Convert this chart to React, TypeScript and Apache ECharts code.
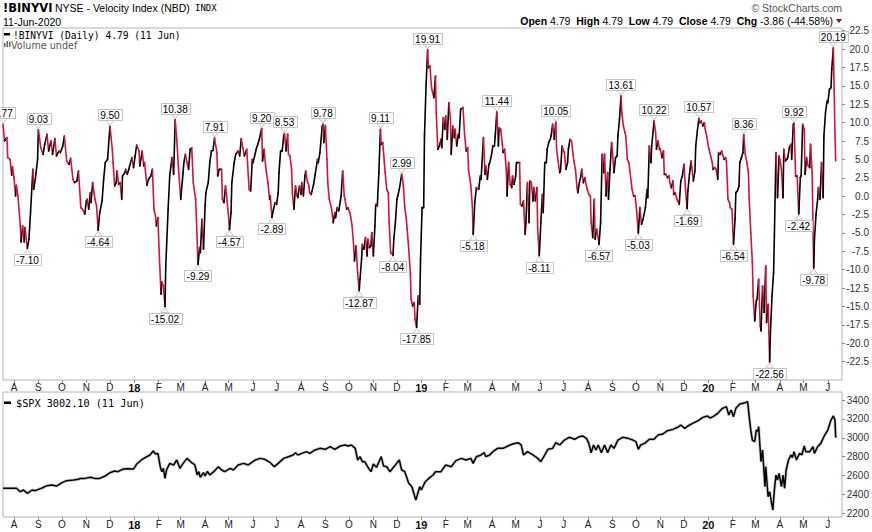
import React, { useEffect, useRef } from 'react';
import * as echarts from 'echarts';

// Day offsets are counted from 18-Jul-2017 (left edge of the chart)
const START = Date.UTC(2017, 6, 18);
const DAY_MS = 86400000;
const AXIS_MAX_DAY = 1067;

// !BINYVI velocity index: [day offset, value]
const VELOCITY: [number, number][] = [
  [0, 9.77], [2, 7.5], [4, 7.82], [5, 7.96], [6, 5.24], [9, 5.01], [11, 2.84], [12, 4.01], [14, 2.52], [16, 0.03],
  [17, 1.48], [19, 0.03], [22, -4.05], [23, -6.23], [25, -4.05], [27, -6.23], [28, -4.28], [31, -7.1], [33, -5.86], [35, -2.24],
  [38, 3.65], [39, 0.93], [41, 2.29], [44, 5.01], [45, 9.03], [48, 6.59], [51, 5.69], [53, 7.05], [56, 8.41], [58, 6.14],
  [61, 7.5], [63, 5.69], [66, 7.82], [68, 5.46], [71, 6.14], [73, 5.92], [76, 6.82], [78, 8.18], [81, 4.78], [84, 4.33],
  [86, 5.14], [89, 2.29], [91, 1.84], [94, 2.07], [96, 3.43], [99, -1.56], [101, -1.78], [104, -2.46], [106, -0.65], [107, -0.43],
  [109, -1.78], [111, 0.48], [112, -0.88], [114, 1.84], [117, -0.43], [119, -1.33], [121, -4.64], [123, -2.24], [126, -0.65], [128, 2.29],
  [130, 4.56], [133, 5.01], [136, 9.5], [139, 6.37], [140, 4.56], [142, 1.39], [144, 1.84], [145, 3.43], [147, 1.61], [149, 1.84],
  [151, -0.43], [152, 2.75], [155, 3.2], [156, 3.65], [158, 2.97], [160, 3.65], [161, 4.1], [164, 5.24], [166, 3.88], [168, 5.46],
  [170, 6.96], [173, 6.14], [174, 4.1], [177, 6.14], [179, 4.1], [180, 4.56], [183, 1.48], [185, 2.29], [188, 2.75], [190, 3.65],
  [192, -1.78], [194, -2.69], [195, -4.05], [197, -2.92], [199, -8.58], [201, -13.34], [202, -11.66], [204, -12.21], [206, -15.02], [207, -9.49],
  [210, -1.78], [212, 2.75], [215, 5.24], [217, 2.97], [219, 10.38], [221, 7.73], [223, 4.1], [226, -0.43], [229, 3.2], [230, 4.56],
  [232, 5.69], [234, 4.56], [236, 3.65], [238, 6.37], [240, 6.59], [242, 1.84], [245, -0.43], [246, -3.15], [248, -9.29], [250, -7.0],
  [251, -7.68], [253, -3.15], [255, -7.22], [257, -1.33], [258, 0.48], [261, 1.84], [263, 4.56], [265, 6.14], [267, 6.2], [269, 7.91],
  [272, 5.92], [273, 2.75], [275, 3.65], [278, 3.65], [279, -0.43], [281, -0.88], [283, 1.39], [285, -0.65], [287, -2.92], [288, -4.57],
  [290, -2.24], [291, 1.84], [294, 4.56], [296, 5.69], [299, 6.14], [301, 5.46], [303, 7.82], [305, 6.59], [307, 5.46], [310, 6.37],
  [312, 2.75], [313, 0.93], [315, 0.71], [317, 5.01], [318, 4.56], [320, 5.46], [322, 6.37], [324, 7.05], [326, 7.73], [329, 9.2],
  [330, 4.78], [332, 6.37], [334, 4.1], [335, 3.2], [337, 1.84], [339, -0.43], [340, 0.03], [342, -2.89], [344, -1.78], [346, -0.88],
  [348, -1.11], [350, 0.48], [351, 3.2], [353, 6.14], [355, 6.14], [357, 8.18], [358, 8.53], [360, 6.14], [362, 8.41], [363, 5.69],
  [365, 5.46], [367, 3.65], [368, 0.48], [370, -1.78], [372, 1.39], [374, 0.03], [375, -0.2], [377, 1.39], [379, 0.25], [380, 1.84],
  [382, 0.03], [384, 2.75], [385, 3.43], [387, 2.07], [389, 1.39], [390, 0.48], [392, 0.25], [395, 1.61], [397, 2.97], [400, 5.01],
  [401, 4.56], [403, 5.92], [406, 9.5], [407, 9.78], [408, 7.28], [410, 9.6], [412, 5.01], [413, 1.84], [415, -0.43], [418, -1.78],
  [420, -3.6], [422, -2.24], [423, -2.92], [425, -1.56], [427, -2.01], [429, -0.65], [430, 0.03], [432, 3.43], [434, 0.03], [435, -0.43],
  [437, -1.78], [439, -1.56], [441, -2.24], [442, -2.69], [444, -4.05], [446, -6.77], [447, -8.81], [449, -6.77], [451, -10.39], [453, -12.87],
  [454, -11.3], [456, -8.58], [457, -6.54], [459, -7.22], [461, -5.64], [463, -8.13], [464, -5.86], [466, -6.99], [468, -6.77], [469, -4.96],
  [471, -8.13], [473, -4.05], [474, -1.11], [476, -1.33], [478, 3.2], [480, 9.11], [481, 7.05], [483, 7.28], [485, 4.56], [486, 3.2],
  [488, 0.93], [490, 0.48], [491, -3.37], [493, -7.68], [496, -8.04], [497, -5.86], [499, -3.6], [501, -0.43], [502, 0.03], [504, 0.93],
  [506, 2.29], [507, 2.99], [509, 1.61], [511, -1.56], [513, -3.15], [514, -4.51], [516, -7.22], [518, -10.39], [519, -14.02], [521, -14.93],
  [523, -14.47], [524, -16.74], [526, -17.85], [528, -13.57], [530, -14.7], [531, -8.58], [533, -1.56], [535, -1.56], [536, 8.18], [538, 14.98],
  [540, 19.91], [541, 17.47], [543, 17.7], [545, 14.75], [546, 14.3], [548, 13.39], [550, 16.34], [551, 11.35], [553, 6.37], [555, 6.82],
  [557, 7.73], [558, 6.59], [560, 10.67], [562, 9.09], [563, 10.9], [565, 7.73], [567, 12.71], [569, 10.45], [570, 5.69], [572, 9.54],
  [574, 7.96], [575, 9.09], [577, 6.82], [579, 8.41], [580, 7.96], [582, 11.81], [585, 12.03], [587, 8.41], [589, 6.14], [591, 6.59],
  [592, 3.65], [595, 1.39], [597, -1.56], [598, -5.18], [600, -0.88], [602, 1.16], [605, 0.93], [607, 2.75], [608, 2.29], [611, 7.96],
  [613, 2.97], [614, 4.1], [616, 2.29], [618, 4.33], [619, 4.56], [621, 5.46], [623, 6.82], [625, 6.82], [626, 8.18], [628, 11.44],
  [630, 6.82], [631, 9.31], [633, 9.09], [635, 7.05], [636, 5.92], [638, 6.37], [640, 3.65], [641, 0.03], [643, 4.56], [645, 1.61],
  [647, 1.16], [648, 2.75], [650, 1.61], [652, 2.75], [653, 4.56], [657, 4.56], [658, -1.11], [660, -1.33], [662, -0.65], [664, -5.18],
  [665, -3.6], [667, 1.84], [669, -3.6], [670, 2.07], [672, 1.84], [674, -0.65], [675, 1.16], [677, -0.65], [679, 1.16], [680, -4.51],
  [682, -8.11], [684, -3.6], [686, 0.25], [687, -2.24], [689, 4.56], [691, 4.56], [692, 6.37], [694, 7.28], [696, 7.73], [697, 8.18],
  [699, 9.77], [701, 7.73], [703, 10.05], [704, 6.37], [706, 4.78], [708, 3.2], [709, 3.43], [711, 6.82], [713, 6.14], [714, 5.92],
  [716, 3.65], [718, 4.56], [719, 6.37], [721, 7.73], [723, 7.5], [725, 5.69], [726, 4.78], [728, 3.65], [730, 1.16], [731, 0.48],
  [733, 1.84], [735, 2.75], [736, 3.65], [738, 1.84], [740, 2.52], [741, 1.84], [743, 0.93], [745, 0.25], [747, 0.03], [748, -3.6],
  [750, -5.64], [752, -0.43], [753, -5.86], [755, -4.51], [757, -5.64], [758, -6.57], [760, -3.6], [762, 5.69], [764, 3.2], [765, 5.69],
  [767, 0.03], [769, 3.2], [770, -0.43], [772, 3.65], [774, 7.28], [775, 6.14], [777, 3.2], [779, 5.24], [781, 5.46], [782, 8.18],
  [784, 10.45], [786, 13.61], [787, 11.35], [789, 9.54], [791, 8.64], [792, 8.18], [794, 5.01], [796, 4.56], [797, 3.65], [800, 0.93],
  [802, 0.03], [804, 0.03], [806, -2.24], [808, -5.03], [810, -1.56], [812, -3.82], [814, -3.15], [817, -1.56], [819, 0.93], [820, -0.2],
  [822, 6.82], [824, 4.56], [825, 6.82], [828, 10.22], [830, 8.64], [831, 6.37], [833, 7.5], [835, 6.37], [836, 6.37], [838, 5.24],
  [840, 6.14], [841, 2.97], [843, 2.97], [845, 2.52], [847, 2.75], [848, 1.84], [850, 1.16], [852, 2.07], [853, 0.25], [855, 0.48],
  [857, -0.43], [858, -0.65], [860, -1.11], [862, 2.07], [864, 2.75], [866, 4.33], [868, 0.93], [870, -1.69], [871, 0.71], [873, 2.97],
  [875, 4.78], [876, 3.88], [878, 2.07], [880, 3.43], [881, 6.82], [883, 8.86], [885, 10.57], [886, 9.99], [888, 10.22], [890, 9.54],
  [892, 9.99], [893, 9.09], [895, 8.18], [897, 6.82], [898, 6.37], [900, 5.46], [902, 4.56], [903, 3.65], [905, 3.88], [907, 3.65],
  [909, 2.29], [910, 5.92], [912, 5.69], [914, 6.14], [915, 5.69], [917, 5.01], [919, 5.24], [920, 4.78], [922, -0.43], [924, -0.88],
  [925, -1.56], [927, -1.78], [929, -6.54], [931, -3.15], [932, 0.48], [934, 0.71], [936, 1.39], [937, 4.56], [939, 5.24], [941, 5.92],
  [942, 8.36], [944, 5.69], [946, 4.56], [948, 3.2], [949, -0.43], [951, -4.96], [953, -9.04], [954, -13.57], [956, -16.97], [958, -14.25],
  [959, -14.02], [961, -11.3], [963, -17.65], [964, -18.32], [966, -12.21], [968, -15.83], [970, -9.49], [971, -17.19], [973, -14.7], [975, -22.56],
  [976, -18.55], [978, -13.57], [980, -10.39], [981, -5.41], [983, 5.92], [985, -0.2], [987, 5.46], [988, 5.01], [990, 3.65], [992, -0.2],
  [993, 6.37], [995, 4.78], [997, 5.01], [998, 5.24], [1000, 6.59], [1002, 7.05], [1003, 5.01], [1005, 9.77], [1006, 9.92], [1008, 2.75],
  [1010, 2.75], [1012, -2.42], [1014, 2.52], [1015, 2.75], [1017, 9.77], [1019, 9.09], [1020, 2.97], [1022, 5.24], [1024, 4.1], [1026, 3.88],
  [1027, 7.05], [1029, 3.2], [1031, -9.78], [1032, -5.86], [1034, -2.46], [1036, -0.43], [1037, 1.16], [1039, -0.43], [1041, 4.56], [1043, -0.2],
  [1044, 8.18], [1046, 11.35], [1048, 12.94], [1049, 12.71], [1051, 14.52], [1053, 14.75], [1054, 17.24], [1056, 20.19], [1057, 14.5], [1058, 8.65],
  [1059, 4.79],
];

// $SPX close: [day offset, value]
const SPX: [number, number][] = [
  [0, 2465], [17, 2465], [22, 2429], [26, 2447], [31, 2412], [37, 2447], [41, 2440], [45, 2454], [49, 2465], [56, 2493],
  [62, 2500], [68, 2489], [75, 2525], [81, 2546], [90, 2553], [96, 2560], [98, 2570], [104, 2570], [111, 2581], [117, 2570],
  [123, 2570], [130, 2595], [136, 2630], [142, 2648], [146, 2641], [153, 2669], [159, 2673], [166, 2669], [170, 2722], [176, 2765],
  [183, 2800], [187, 2818], [191, 2860], [194, 2828], [197, 2835], [200, 2694], [202, 2641], [204, 2676], [206, 2570], [208, 2659],
  [212, 2729], [217, 2712], [221, 2765], [225, 2676], [229, 2729], [234, 2782], [240, 2736], [244, 2712], [247, 2606], [249, 2641],
  [251, 2581], [255, 2631], [257, 2595], [260, 2645], [263, 2606], [268, 2641], [274, 2694], [278, 2659], [282, 2641], [289, 2676],
  [293, 2659], [299, 2712], [306, 2729], [312, 2712], [316, 2736], [321, 2765], [327, 2782], [333, 2772], [340, 2736], [345, 2694],
  [350, 2729], [357, 2782], [363, 2800], [369, 2818], [372, 2842], [375, 2818], [380, 2835], [386, 2853], [390, 2835], [397, 2871],
  [403, 2888], [410, 2878], [416, 2906], [422, 2878], [429, 2913], [435, 2924], [439, 2913], [443, 2924], [448, 2888], [451, 2765],
  [454, 2800], [457, 2747], [460, 2747], [465, 2676], [468, 2641], [471, 2722], [475, 2687], [481, 2800], [484, 2701], [488, 2694],
  [492, 2641], [499, 2712], [504, 2765], [507, 2659], [511, 2641], [516, 2518], [520, 2482], [525, 2341], [530, 2482], [532, 2447],
  [537, 2535], [543, 2581], [547, 2606], [550, 2640], [557, 2641], [563, 2712], [570, 2694], [576, 2758], [583, 2782], [589, 2765],
  [595, 2782], [598, 2729], [602, 2800], [608, 2818], [612, 2842], [614, 2800], [619, 2818], [623, 2853], [629, 2888], [636, 2888],
  [642, 2913], [648, 2934], [655, 2948], [659, 2924], [662, 2818], [667, 2853], [674, 2818], [680, 2782], [684, 2747], [689, 2818],
  [693, 2878], [699, 2888], [703, 2948], [708, 2924], [714, 2976], [720, 3005], [727, 2984], [733, 3012], [737, 3020], [742, 2994],
  [745, 2941], [748, 2842], [751, 2924], [754, 2871], [757, 2924], [761, 2842], [765, 2924], [769, 2842], [773, 2924], [777, 2888],
  [782, 2976], [788, 3005], [795, 2994], [801, 2976], [805, 2959], [808, 2878], [811, 2924], [816, 2941], [822, 2984], [828, 2984],
  [833, 3029], [839, 3040], [845, 3075], [852, 3089], [858, 3111], [862, 3135], [867, 3100], [871, 3125], [877, 3153], [884, 3181],
  [890, 3216], [896, 3231], [899, 3210], [903, 3224], [909, 3259], [915, 3312], [920, 3329], [923, 3241], [926, 3294], [929, 3224],
  [932, 3312], [937, 3358], [941, 3365], [944, 3372], [947, 3382], [949, 3224], [951, 3082], [953, 2976], [956, 2959], [958, 3082],
  [960, 3070], [961, 3118], [964, 2747], [966, 2871], [969, 2482], [970, 2694], [973, 2376], [975, 2429], [976, 2380], [979, 2235],
  [981, 2447], [983, 2606], [985, 2553], [987, 2623], [990, 2482], [992, 2606], [994, 2465], [996, 2659], [999, 2765], [1002, 2818],
  [1004, 2790], [1006, 2853], [1009, 2765], [1013, 2835], [1016, 2820], [1019, 2913], [1021, 2853], [1026, 2853], [1030, 2906], [1032, 2835],
  [1036, 2906], [1040, 2941], [1045, 3029], [1049, 3082], [1053, 3188], [1056, 3231], [1058, 3190], [1059, 3002],
];

// Annotated swing highs and lows: [day offset, value]
const PEAKS: [number, number][] = [
  [0, 9.77], [45, 9.03], [136, 9.5], [219, 10.38], [269, 7.91], [329, 9.2], [358, 8.53], [407, 9.78], [480, 9.11], [507, 2.99],
  [540, 19.91], [628, 11.44], [703, 10.05], [786, 13.61], [828, 10.22], [885, 10.57], [942, 8.36], [1006, 9.92], [1056, 20.19],
];
const TROUGHS: [number, number][] = [
  [31, -7.1], [121, -4.64], [206, -15.02], [248, -9.29], [288, -4.57], [342, -2.89], [453, -12.87], [496, -8.04], [526, -17.85],
  [598, -5.18], [682, -8.11], [758, -6.57], [808, -5.03], [870, -1.69], [929, -6.54], [975, -22.56], [1012, -2.42], [1031, -9.78],
];

const VI_TICKS = [-22.5, -20, -17.5, -15, -12.5, -10, -7.5, -5, -2.5, 0, 2.5, 5, 7.5, 10, 12.5, 15, 17.5, 20, 22.5];
const SPX_TICKS = [2200, 2400, 2600, 2800, 3000, 3200, 3400];
const MONTH_LETTERS = ['J', 'F', 'M', 'A', 'M', 'J', 'J', 'A', 'S', 'O', 'N', 'D'];

const UP_COLOR = '#000000';
const DOWN_COLOR = '#d4143c';
const BORDER = '#b4b4b4';
const LABEL_FONT = 'Liberation Sans, Arial, sans-serif';

function monthStarts(): number[] {
  const out: number[] = [];
  let y = 2017, m = 7;
  while (y < 2020 || (y === 2020 && m <= 5)) {
    out.push(Math.round((Date.UTC(y, m, 1) - START) / DAY_MS));
    m++;
    if (m > 11) { m = 0; y++; }
  }
  return out;
}

function monthLabel(v: number): string {
  const dt = new Date(START + Math.round(v) * DAY_MS);
  const m = dt.getUTCMonth();
  if (m === 0) return '{yr|' + String(dt.getUTCFullYear()).slice(2) + '}';
  return MONTH_LETTERS[m];
}

function textWidth(t: string): number {
  let w = 0;
  for (const ch of t) {
    if (ch === '.') w += 2.9;
    else if (ch === '-') w += 3.4;
    else w += 5.6;
  }
  return w;
}

export default function App() {
  const ref = useRef<HTMLDivElement>(null);

  useEffect(() => {
    if (!ref.current) return;
    const chart = echarts.init(ref.current, undefined, { renderer: 'svg' });
    const months = monthStarts();

    const segData = VELOCITY.slice(1).map((p, i) => [VELOCITY[i][0], VELOCITY[i][1], p[0], p[1]]);
    const annData = [
      ...PEAKS.map((p) => [p[0], p[1], 1]),
      ...TROUGHS.map((p) => [p[0], p[1], -1]),
    ];

    const xAxisBase = (gridIndex: number, margin: number) => ({
      type: 'value',
      gridIndex,
      min: 0,
      max: AXIS_MAX_DAY,
      position: 'bottom',
      axisLine: { show: false, onZero: false },
      splitLine: { show: false },
      axisTick: { show: true, customValues: months, length: 3, lineStyle: { color: '#888' } },
      axisLabel: {
        customValues: months,
        margin,
        formatter: monthLabel,
        color: '#222',
        fontSize: 10,
        fontFamily: LABEL_FONT,
        rich: { yr: { fontWeight: 'bold', fontSize: 11, fontFamily: LABEL_FONT, color: '#111' } },
      },
    });

    const option: any = {
      animation: false,
      backgroundColor: '#ffffff',
      grid: [
        { left: 3, top: 28, width: 839, height: 352, show: true, borderColor: BORDER, borderWidth: 1, backgroundColor: 'transparent' },
        { left: 3, top: 392, width: 839, height: 125, show: true, borderColor: BORDER, borderWidth: 1, backgroundColor: 'transparent' },
      ],
      xAxis: [xAxisBase(0, 2), xAxisBase(1, 2)],
      yAxis: [
        {
          type: 'value', gridIndex: 0, position: 'right', min: -25, max: 22.87,
          axisLine: { show: false, onZero: false }, splitLine: { show: false },
          axisTick: { show: true, customValues: VI_TICKS, length: 3, lineStyle: { color: '#888' } },
          axisLabel: {
            customValues: VI_TICKS, align: 'right', margin: 27, color: '#333', fontSize: 10, fontFamily: LABEL_FONT,
            formatter: (v: number) => v.toFixed(1),
          },
        },
        {
          type: 'value', gridIndex: 1, position: 'right', min: 2161, max: 3485,
          axisLine: { show: false, onZero: false }, splitLine: { show: false },
          axisTick: { show: true, customValues: SPX_TICKS, length: 3, lineStyle: { color: '#888' } },
          axisLabel: {
            customValues: SPX_TICKS, align: 'right', margin: 27, color: '#333', fontSize: 10, fontFamily: LABEL_FONT,
            formatter: (v: number) => String(v),
          },
        },
      ],
      series: [
        {
          type: 'custom',
          name: '!BINYVI',
          coordinateSystem: 'cartesian2d',
          xAxisIndex: 0,
          yAxisIndex: 0,
          encode: { x: [0, 2], y: [1, 3] },
          data: segData,
          renderItem: (_params: any, api: any) => {
            const a = api.coord([api.value(0), api.value(1)]);
            const b = api.coord([api.value(2), api.value(3)]);
            const up = api.value(3) >= api.value(1);
            return {
              type: 'line',
              shape: { x1: a[0], y1: a[1], x2: b[0], y2: b[1] },
              style: { stroke: up ? UP_COLOR : DOWN_COLOR, lineWidth: 1.6, lineCap: 'round' },
            };
          },
        },
        {
          type: 'custom',
          name: 'labels',
          coordinateSystem: 'cartesian2d',
          xAxisIndex: 0,
          yAxisIndex: 0,
          encode: { x: 0, y: 1 },
          data: annData,
          z: 5,
          renderItem: (_params: any, api: any) => {
            const v = api.value(1);
            const p = api.coord([api.value(0), v]);
            const dir = api.value(2);
            const txt = v.toFixed(2);
            const w = textWidth(txt) + 4;
            const h = 11;
            const gap = 6;
            const up = dir > 0;
            const by = up ? p[1] - gap - h : p[1] + gap;
            const edge = up ? p[1] - gap : p[1] + gap;
            const tip = up ? p[1] - 1 : p[1] + 1;
            return {
              type: 'group',
              children: [
                {
                  type: 'polygon',
                  shape: { points: [[p[0] - 4, edge], [p[0], tip], [p[0] + 4, edge]] },
                  style: { fill: '#ffffff', stroke: '#c4c4c4', lineWidth: 1 },
                },
                {
                  type: 'rect',
                  shape: { x: Math.round(p[0] - w / 2) + 0.5, y: Math.round(by) + 0.5, width: Math.round(w), height: h },
                  style: { fill: '#ffffff', stroke: '#c4c4c4', lineWidth: 1 },
                },
                {
                  type: 'text',
                  style: {
                    text: txt, x: p[0], y: Math.round(by) + 0.5 + h / 2 + 0.5, align: 'center', verticalAlign: 'middle',
                    fontSize: 10, fontFamily: LABEL_FONT, fill: '#000',
                  },
                },
              ],
            };
          },
        },
        {
          type: 'line',
          name: '$SPX shadow',
          xAxisIndex: 1,
          yAxisIndex: 1,
          data: SPX,
          symbol: 'none',
          silent: true,
          lineStyle: { color: '#cfcfcf', width: 3.2 },
        },
        {
          type: 'line',
          name: '$SPX',
          xAxisIndex: 1,
          yAxisIndex: 1,
          data: SPX,
          symbol: 'none',
          lineStyle: { color: '#000', width: 1.5 },
        },
      ],
      graphic: [
        {
          type: 'text', x: 3, y: 8,
          style: { text: '!BINYVI', fontSize: 11.5, fontWeight: 'bold', fontFamily: 'DejaVu Sans, sans-serif', fill: '#000', verticalAlign: 'middle' },
        },
        {
          type: 'text', x: 55, y: 8,
          style: { text: 'NYSE - Velocity Index (NBD)', fontSize: 10.5, fontFamily: LABEL_FONT, fill: '#000', verticalAlign: 'middle' },
        },
        {
          type: 'text', x: 195, y: 8,
          style: { text: 'INDX', fontSize: 9, fontFamily: 'DejaVu Sans Mono, monospace', fill: '#000', verticalAlign: 'middle' },
        },
        {
          type: 'text', x: 3, y: 22,
          style: { text: '11-Jun-2020', fontSize: 10.5, fontFamily: LABEL_FONT, fill: '#000', verticalAlign: 'middle' },
        },
        {
          type: 'text', x: 842, y: 8,
          style: { text: '© StockCharts.com', fontSize: 10.5, fontFamily: LABEL_FONT, fill: '#555', align: 'right', verticalAlign: 'middle' },
        },
        {
          type: 'text', x: 833, y: 21,
          style: {
            text: '{b|Open} 4.79  {b|High} 4.79  {b|Low} 4.79  {b|Close} 4.79  {b|Chg} -3.86 (-44.58%)',
            fontSize: 10.5, fontFamily: LABEL_FONT, fill: '#000', align: 'right', verticalAlign: 'middle',
            rich: { b: { fontWeight: 'bold', fontSize: 10.5, fontFamily: LABEL_FONT, fill: '#000' } },
          },
        },
        {
          type: 'polygon',
          shape: { points: [[836, 19], [842, 19], [839, 23]] },
          style: { fill: '#a3002c' },
        },
        { type: 'rect', shape: { x: 4, y: 33, width: 6, height: 2.5 }, style: { fill: '#000' } },
        {
          type: 'text', x: 13, y: 35,
          style: { text: '!BINYVI (Daily) 4.79 (11 Jun)', fontSize: 9.6, fontFamily: 'DejaVu Sans Mono, monospace', fill: '#000', verticalAlign: 'middle' },
        },
        { type: 'rect', shape: { x: 4, y: 43, width: 1.5, height: 4 }, style: { fill: '#666' } },
        { type: 'rect', shape: { x: 6.5, y: 41, width: 1.5, height: 6 }, style: { fill: '#666' } },
        { type: 'rect', shape: { x: 9, y: 42, width: 1.5, height: 5 }, style: { fill: '#666' } },
        {
          type: 'text', x: 11, y: 45,
          style: { text: 'Volume undef', fontSize: 9.6, fontFamily: 'DejaVu Sans, sans-serif', fill: '#555', verticalAlign: 'middle' },
        },
        { type: 'rect', shape: { x: 4, y: 401.5, width: 7, height: 2.5 }, style: { fill: '#000' } },
        {
          type: 'text', x: 16, y: 403,
          style: { text: '$SPX 3002.10 (11 Jun)', fontSize: 10.2, fontFamily: 'DejaVu Sans Mono, monospace', fill: '#000', verticalAlign: 'middle' },
        },
      ],
    };

    chart.setOption(option);
    return () => chart.dispose();
  }, []);

  return <div ref={ref} style={{ position: 'absolute', left: 0, top: 0, width: 872, height: 532 }} />;
}
